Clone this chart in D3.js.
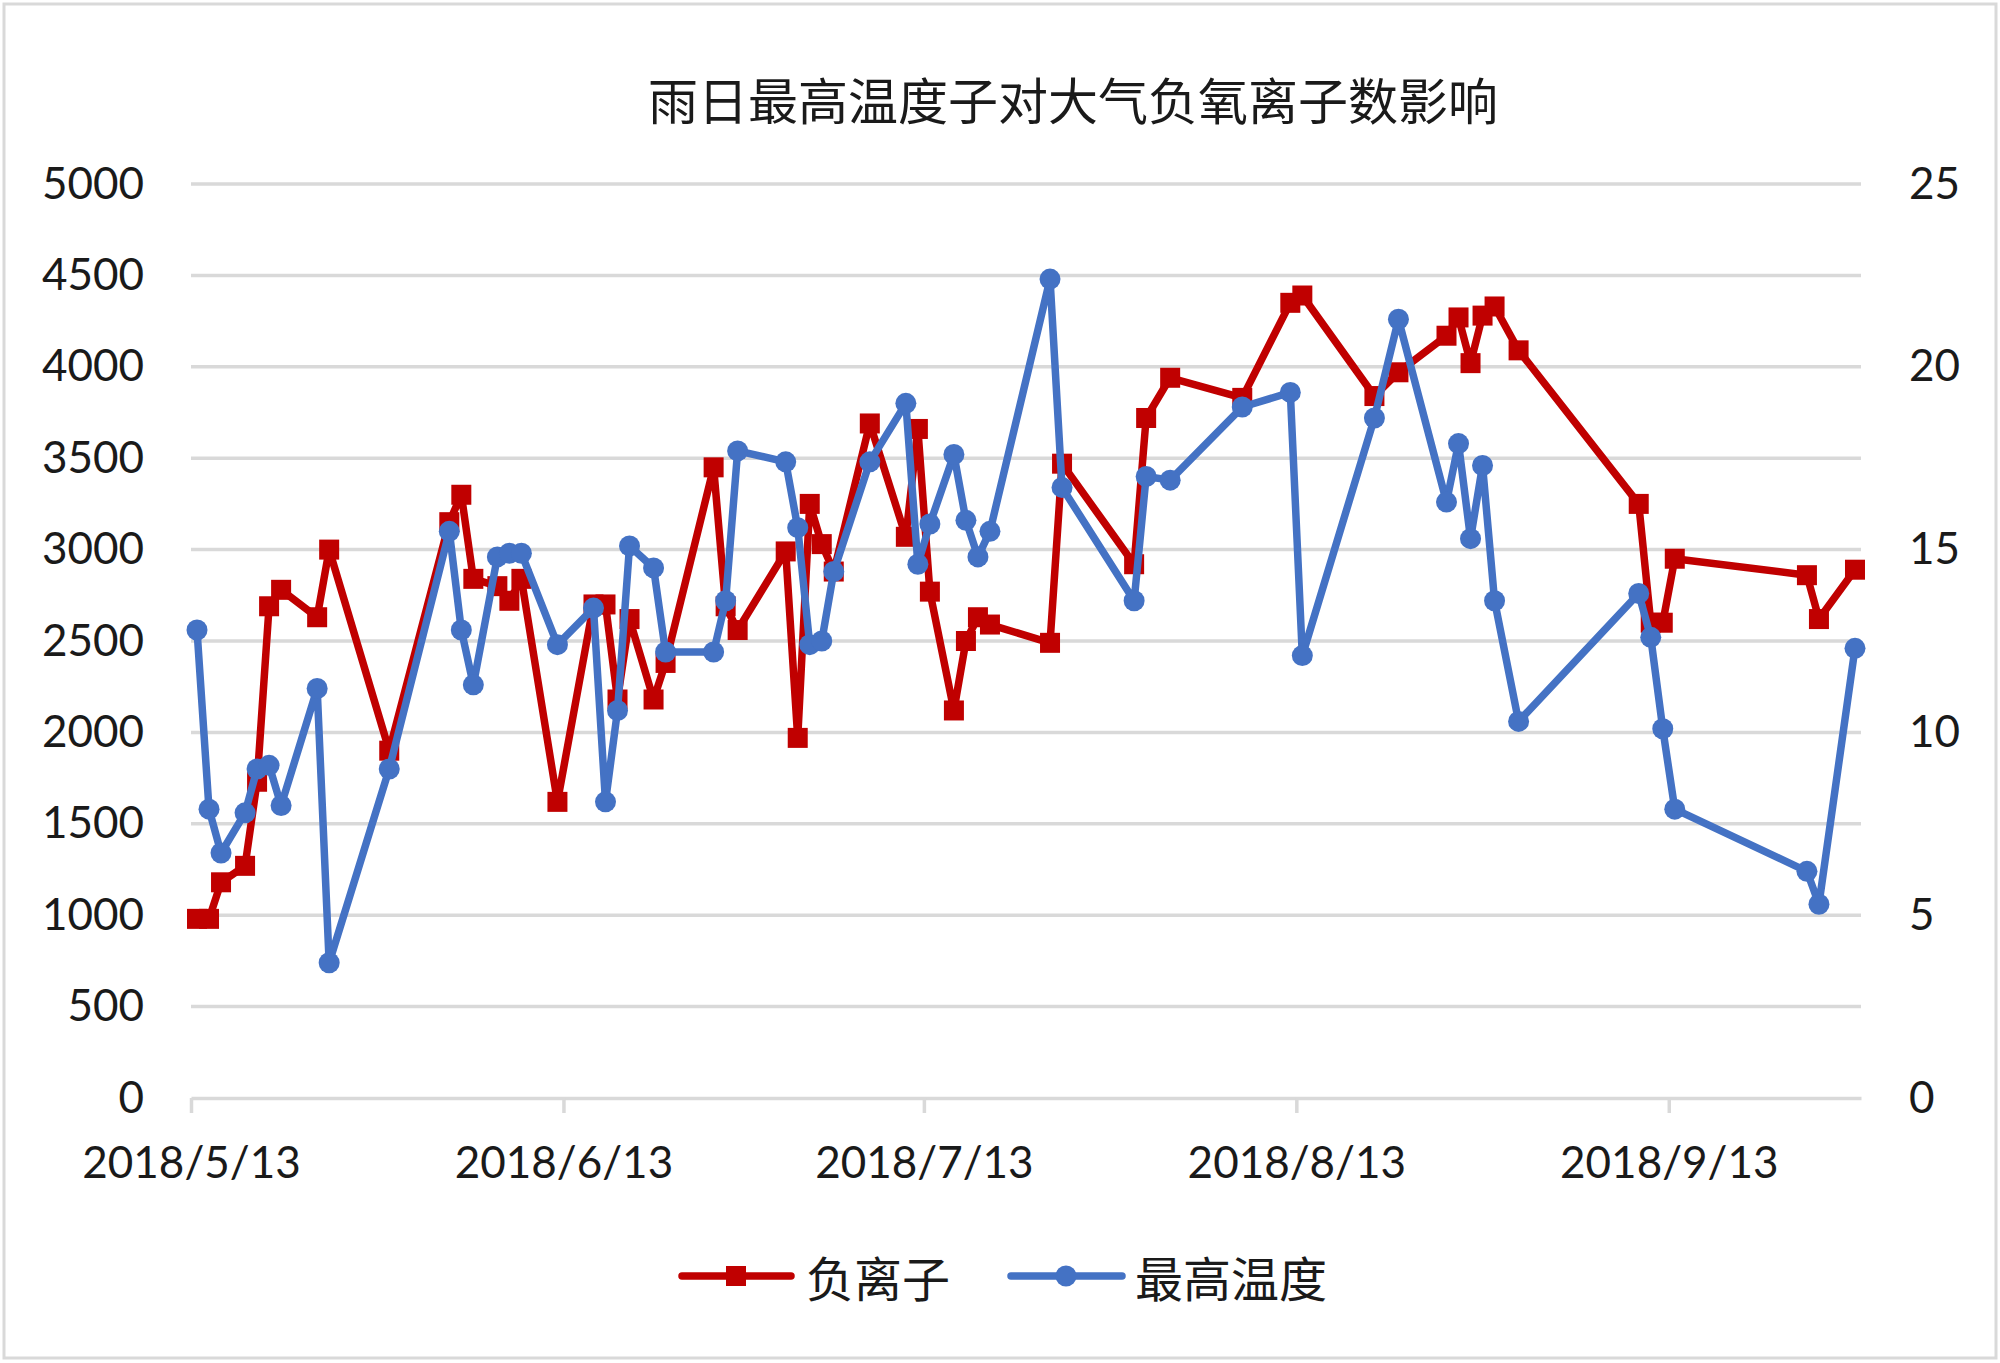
<!DOCTYPE html>
<html>
<head>
<meta charset="utf-8">
<script src="https://cdn.jsdelivr.net/npm/d3@7"></script>
<style>
  html, body { margin: 0; padding: 0; background: #fff; }
  svg { display: block; }
</style>
</head>
<body>
<svg id="chart" width="2000" height="1363"></svg>
<script>
// ---- data ----
const chartTitle = "雨日最高温度子对大气负氧离子数影响";
const seriesNames = ["负离子", "最高温度"];
const dates = [
  "2018-05-13","2018-05-14","2018-05-15","2018-05-17","2018-05-18","2018-05-19","2018-05-20",
  "2018-05-23","2018-05-24","2018-05-29","2018-06-03","2018-06-04","2018-06-05","2018-06-07",
  "2018-06-08","2018-06-09","2018-06-12","2018-06-15","2018-06-16","2018-06-17","2018-06-18",
  "2018-06-20","2018-06-21","2018-06-25","2018-06-26","2018-06-27","2018-07-01","2018-07-02",
  "2018-07-03","2018-07-04","2018-07-05","2018-07-08","2018-07-11","2018-07-12","2018-07-13",
  "2018-07-15","2018-07-16","2018-07-17","2018-07-18","2018-07-23","2018-07-24","2018-07-30",
  "2018-07-31","2018-08-02","2018-08-08","2018-08-12","2018-08-13","2018-08-19","2018-08-21",
  "2018-08-25","2018-08-26","2018-08-27","2018-08-28","2018-08-29","2018-08-31","2018-09-10",
  "2018-09-11","2018-09-12","2018-09-13","2018-09-24","2018-09-25","2018-09-28"
];
const negIons = [
  980, 980, 1180, 1270, 1730, 2690, 2780,
  2630, 3000, 1900, 3150, 3300, 2840, 2800,
  2720, 2840, 1620, 2700, 2700, 2180, 2620,
  2180, 2380, 3450, 2690, 2560, 2990, 1970,
  3250, 3030, 2880, 3690, 3070, 3660, 2770,
  2120, 2500, 2630, 2590, 2490, 3470, 2920,
  3720, 3940, 3830, 4350, 4390, 3840, 3970,
  4170, 4270, 4020, 4280, 4330, 4090, 3250,
  2600, 2600, 2950, 2860, 2620, 2890
];
const maxTemp = [
  12.8, 7.9, 6.7, 7.8, 9.0, 9.1, 8.0,
  11.2, 3.7, 9.0, 15.5, 12.8, 11.3, 14.8,
  14.9, 14.9, 12.4, 13.4, 8.1, 10.6, 15.1,
  14.5, 12.2, 12.2, 13.6, 17.7, 17.4, 15.6,
  12.4, 12.5, 14.4, 17.4, 19.0, 14.6, 15.7,
  17.6, 15.8, 14.8, 15.5, 22.4, 16.7, 13.6,
  17.0, 16.9, 18.9, 19.3, 12.1, 18.6, 21.3,
  16.3, 17.9, 15.3, 17.3, 13.6, 10.3, 13.8,
  12.6, 10.1, 7.9, 6.2, 5.3, 12.3
];
const xTickDates = ["2018-05-13","2018-06-13","2018-07-13","2018-08-13","2018-09-13"];
const leftTicks = [0,500,1000,1500,2000,2500,3000,3500,4000,4500,5000];
const rightTicks = [0,5,10,15,20,25];

// ---- layout ----
const parse = d3.utcParse("%Y-%m-%d");
const fmtTick = d => `${d.getUTCFullYear()}/${d.getUTCMonth()+1}/${d.getUTCDate()}`;
const svg = d3.select("#chart");
const plot = { left: 191, right: 1861, top: 184, bottom: 1098 };
const RED = "#C00000", BLUE = "#4472C4", GRID = "#d9d9d9";
const numFont = "Lato, 'Open Sans', sans-serif";
const cjkFont = "'Noto Sans CJK SC', sans-serif";

const x = d3.scaleUtc()
  .domain([parse("2018-05-13"), parse("2018-09-29")])
  .range([plot.left, plot.right]);
const halfDay = 12 * 60 * 60 * 1000;
const xPos = d => x(new Date(parse(d).getTime() + halfDay));
const yL = d3.scaleLinear().domain([0, 5000]).range([plot.bottom, plot.top]);
const yR = d3.scaleLinear().domain([0, 25]).range([plot.bottom, plot.top]);

// border
svg.append("rect").attr("x", 4).attr("y", 4).attr("width", 1992).attr("height", 1354)
  .attr("fill", "#fff").attr("stroke", GRID).attr("stroke-width", 3);

// gridlines
svg.append("g").selectAll("line").data(leftTicks.filter(v => v > 0)).join("line")
  .attr("x1", plot.left).attr("x2", plot.right)
  .attr("y1", d => yL(d)).attr("y2", d => yL(d))
  .attr("stroke", GRID).attr("stroke-width", 3.5);

// x axis
const xAxis = svg.append("g").attr("transform", `translate(0,${plot.bottom})`)
  .call(d3.axisBottom(x).tickValues(xTickDates.map(parse)).tickFormat(fmtTick)
    .tickSize(15).tickSizeOuter(0).tickPadding(34));
xAxis.select(".domain").attr("stroke", GRID).attr("stroke-width", 3.5);
xAxis.selectAll(".tick line").attr("stroke", GRID).attr("stroke-width", 3.5);
xAxis.selectAll("text").attr("font-family", numFont).attr("font-size", 44).attr("fill", "#1a1a1a");

// left axis
const lAxis = svg.append("g").attr("transform", `translate(${plot.left},0)`)
  .call(d3.axisLeft(yL).tickValues(leftTicks).tickSize(0).tickPadding(47).tickFormat(d3.format("d")));
lAxis.select(".domain").remove();
lAxis.selectAll("text").attr("font-family", numFont).attr("font-size", 44).attr("fill", "#1a1a1a");

// right axis
const rAxis = svg.append("g").attr("transform", `translate(${plot.right},0)`)
  .call(d3.axisRight(yR).tickValues(rightTicks).tickSize(0).tickPadding(48).tickFormat(d3.format("d")));
rAxis.select(".domain").remove();
rAxis.selectAll("text").attr("font-family", numFont).attr("font-size", 44).attr("fill", "#1a1a1a");

// series
const redData = dates.map((d, i) => ({ d, v: negIons[i] }));
const blueData = dates.map((d, i) => ({ d, v: maxTemp[i] }));

const lineL = d3.line().x(p => xPos(p.d)).y(p => yL(p.v));
const lineR = d3.line().x(p => xPos(p.d)).y(p => yR(p.v));
const LW = 7.5;

svg.append("path").datum(redData).attr("d", lineL)
  .attr("fill", "none").attr("stroke", RED).attr("stroke-width", LW)
  .attr("stroke-linejoin", "round").attr("stroke-linecap", "round");
const sq = 20;
svg.append("g").selectAll("rect").data(redData).join("rect")
  .attr("x", p => xPos(p.d) - sq / 2).attr("y", p => yL(p.v) - sq / 2)
  .attr("width", sq).attr("height", sq).attr("fill", RED);

svg.append("path").datum(blueData).attr("d", lineR)
  .attr("fill", "none").attr("stroke", BLUE).attr("stroke-width", LW)
  .attr("stroke-linejoin", "round").attr("stroke-linecap", "round");
svg.append("g").selectAll("circle").data(blueData).join("circle")
  .attr("cx", p => xPos(p.d)).attr("cy", p => yR(p.v)).attr("r", 10.5)
  .attr("fill", BLUE);

// title
svg.append("text").attr("x", 1073).attr("y", 98)
  .attr("text-anchor", "middle").attr("dominant-baseline", "central")
  .attr("font-family", cjkFont).attr("font-size", 50).attr("fill", "#1a1a1a")
  .text(chartTitle);

// legend
const lg = svg.append("g");
const legY = 1276;
lg.append("line").attr("x1", 682).attr("x2", 791).attr("y1", legY).attr("y2", legY)
  .attr("stroke", RED).attr("stroke-width", LW).attr("stroke-linecap", "round");
lg.append("rect").attr("x", 736 - sq / 2).attr("y", legY - sq / 2).attr("width", sq).attr("height", sq).attr("fill", RED);
lg.append("text").attr("x", 806).attr("y", legY).attr("dominant-baseline", "central")
  .attr("font-family", cjkFont).attr("font-size", 48).attr("fill", "#1a1a1a").text(seriesNames[0]);
lg.append("line").attr("x1", 1011).attr("x2", 1122).attr("y1", legY).attr("y2", legY)
  .attr("stroke", BLUE).attr("stroke-width", LW).attr("stroke-linecap", "round");
lg.append("circle").attr("cx", 1066).attr("cy", legY).attr("r", 10.5).attr("fill", BLUE);
lg.append("text").attr("x", 1135).attr("y", legY).attr("dominant-baseline", "central")
  .attr("font-family", cjkFont).attr("font-size", 48).attr("fill", "#1a1a1a").text(seriesNames[1]);
</script>
</body>
</html>
